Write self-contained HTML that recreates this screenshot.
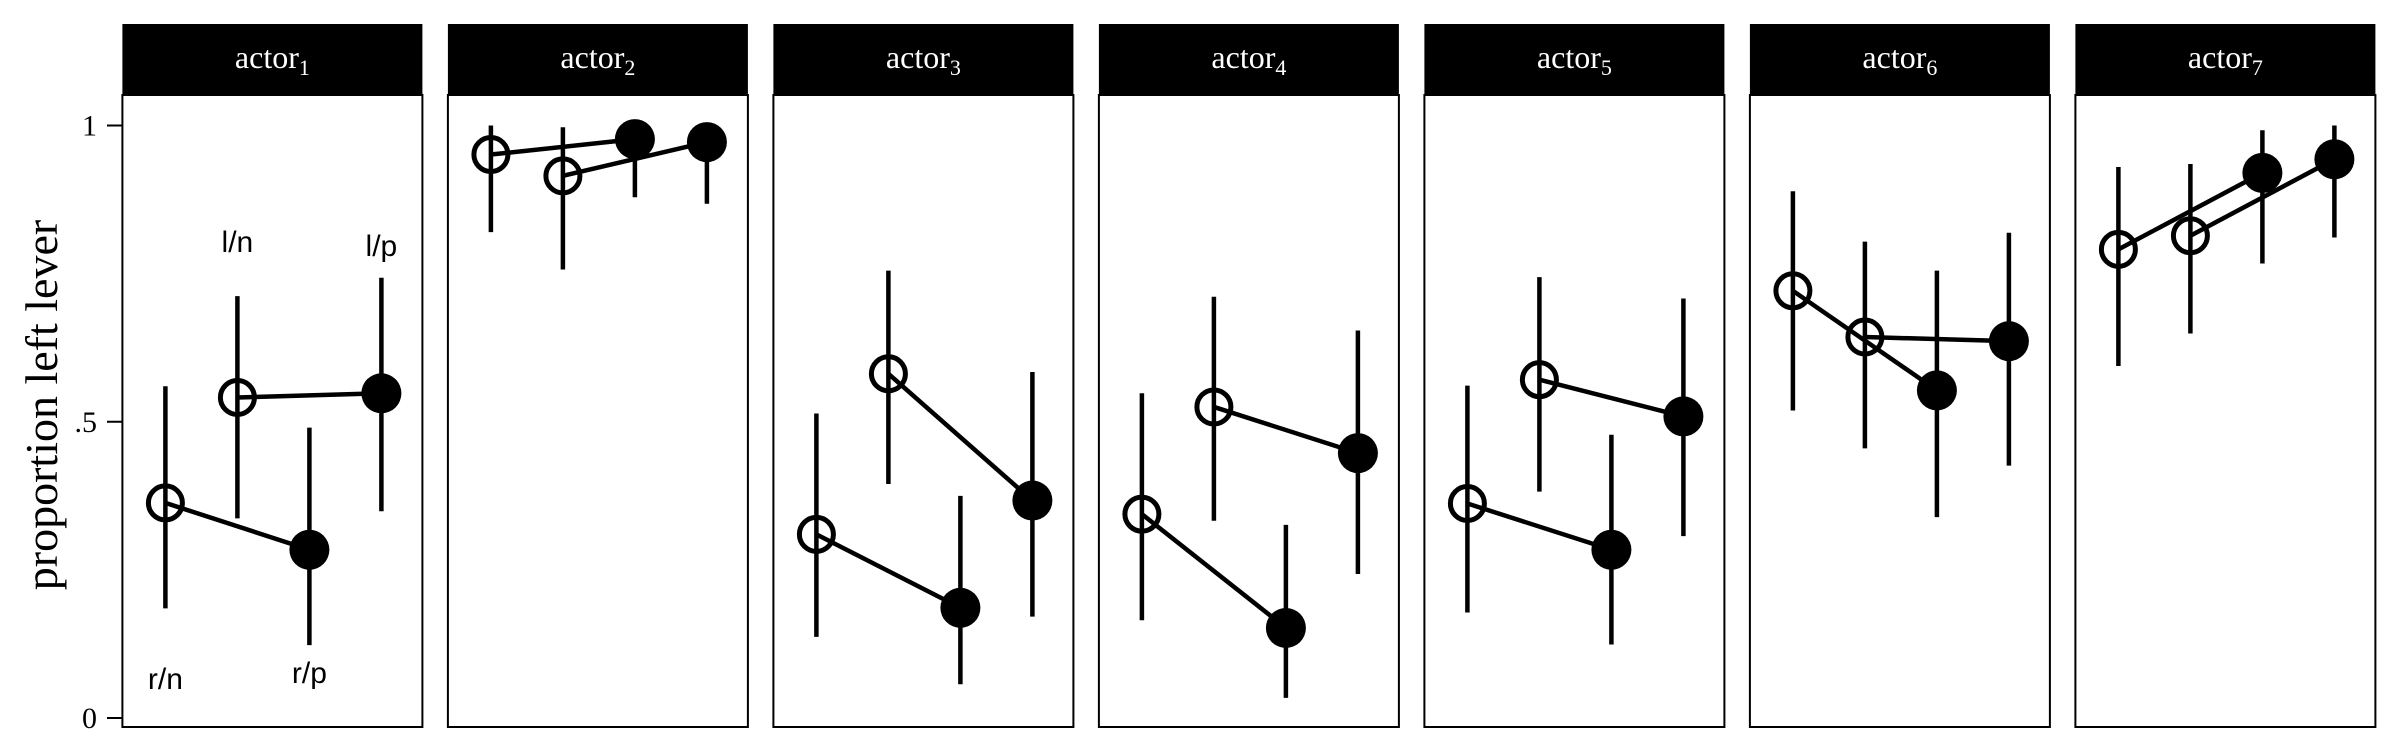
<!DOCTYPE html>
<html><head><meta charset="utf-8"><style>
html,body{margin:0;padding:0;background:#fff;}
svg{display:block;}
</style></head><body>
<svg id="chart" width="2400" height="750" viewBox="0 0 2400 750" xmlns="http://www.w3.org/2000/svg"></svg>
<script>
const actors = ["1","2","3","4","5","6","7"];
const conditions = ["r/n","l/n","r/p","l/p"];
const means = [
  [0.363,0.541,0.284,0.548],
  [0.951,0.915,0.977,0.972],
  [0.310,0.581,0.186,0.367],
  [0.344,0.525,0.152,0.447],
  [0.362,0.571,0.284,0.509],
  [0.721,0.643,0.553,0.636],
  [0.791,0.814,0.920,0.943]
];
const lowers = [
  [0.185,0.337,0.123,0.349],
  [0.820,0.757,0.879,0.868],
  [0.137,0.395,0.057,0.171],
  [0.165,0.333,0.034,0.243],
  [0.178,0.382,0.124,0.307],
  [0.519,0.455,0.339,0.426],
  [0.594,0.649,0.767,0.811]
];
const uppers = [
  [0.560,0.712,0.490,0.743],
  [1.000,0.997,0.997,0.990],
  [0.514,0.755,0.375,0.584],
  [0.548,0.711,0.326,0.654],
  [0.561,0.744,0.478,0.708],
  [0.889,0.804,0.755,0.819],
  [0.930,0.935,0.992,1.000]
];
const yTicks = [0, 0.5, 1];
const yTickLabels = ["0", ".5", "1"];

const svg = document.getElementById('chart');
const NS = "http://www.w3.org/2000/svg";
function mk(tag, attrs, parent){
  const e = document.createElementNS(NS, tag);
  for (const k in attrs) e.setAttribute(k, attrs[k]);
  (parent||svg).appendChild(e);
  return e;
}
const panelLeft0 = 122.4, panelPitch = 325.5, panelW = 300;
const stripTop = 24, stripBot = 95, panelBot = 727;
function y(v){ return 718 - 592.5*v; }
function x(p, i){ return panelLeft0 + p*panelPitch + 43 + i*72; }

for (let t=0;t<yTicks.length;t++){
  const tk = mk('line',{x1:107,x2:122,y1:y(yTicks[t]),y2:y(yTicks[t]),stroke:'#000','stroke-width':2});
  
  
  const tl = mk('text',{x:97,y:y(yTicks[t])+10,'text-anchor':'end','font-family':'Liberation Serif, serif','font-size':30,fill:'#000'});
  tl.textContent = yTickLabels[t];
  
  
}
const yt = mk('text',{x:0,y:0,transform:'translate(57,405) rotate(-90)','text-anchor':'middle','font-family':'Liberation Serif, serif','font-size':46,fill:'#000'});
yt.textContent = 'proportion left lever';



for (let p=0;p<actors.length;p++){
  const L = panelLeft0 + p*panelPitch;
  const g = mk('g',{});
  
  
  const st = mk('rect',{x:L,y:stripTop,width:panelW,height:stripBot-stripTop,fill:'#000'},g);
  
  
  const sl = mk('text',{x:L+panelW/2,y:68,'text-anchor':'middle','font-family':'Liberation Serif, serif','font-size':32,fill:'#fff'},g);
  
  
  sl.appendChild(document.createTextNode('actor'));
  const sub = document.createElementNS(NS,'tspan');
  sub.setAttribute('font-size','22'); sub.setAttribute('dy','7');
  sub.textContent = actors[p];
  sl.appendChild(sub);
  const fr = mk('rect',{x:L,y:stripBot,width:panelW,height:panelBot-stripBot,fill:'none',stroke:'#000','stroke-width':2},g);
  
  
  for (let i=0;i<4;i++){
    const eb = mk('line',{x1:x(p,i),x2:x(p,i),y1:y(uppers[p][i]),y2:y(lowers[p][i]),stroke:'#000','stroke-width':4.5},g);
    
    
  }
  [[0,2],[1,3]].forEach(([a,b])=>{
    const ln = mk('line',{x1:x(p,a),y1:y(means[p][a]),x2:x(p,b),y2:y(means[p][b]),stroke:'#000','stroke-width':4.5},g);
    
    
  });
  for (let i=0;i<4;i++){
    const filled = i>=2;
    const c = mk('circle',{cx:x(p,i),cy:y(means[p][i]),r:filled?20:17,fill:filled?'#000':'none',stroke:'#000','stroke-width':filled?0:5},g);
    
    
  }
  if (p===0){
    const labs = [[0,689],[1,252],[2,683],[3,256]];
    labs.forEach(([i,by])=>{
      const t = mk('text',{x:x(0,i),y:by,'text-anchor':'middle','font-family':'Liberation Sans, sans-serif','font-size':30,fill:'#000'},g);
      t.textContent = conditions[i];
      
      
    });
  }
}
</script>
</body></html>
